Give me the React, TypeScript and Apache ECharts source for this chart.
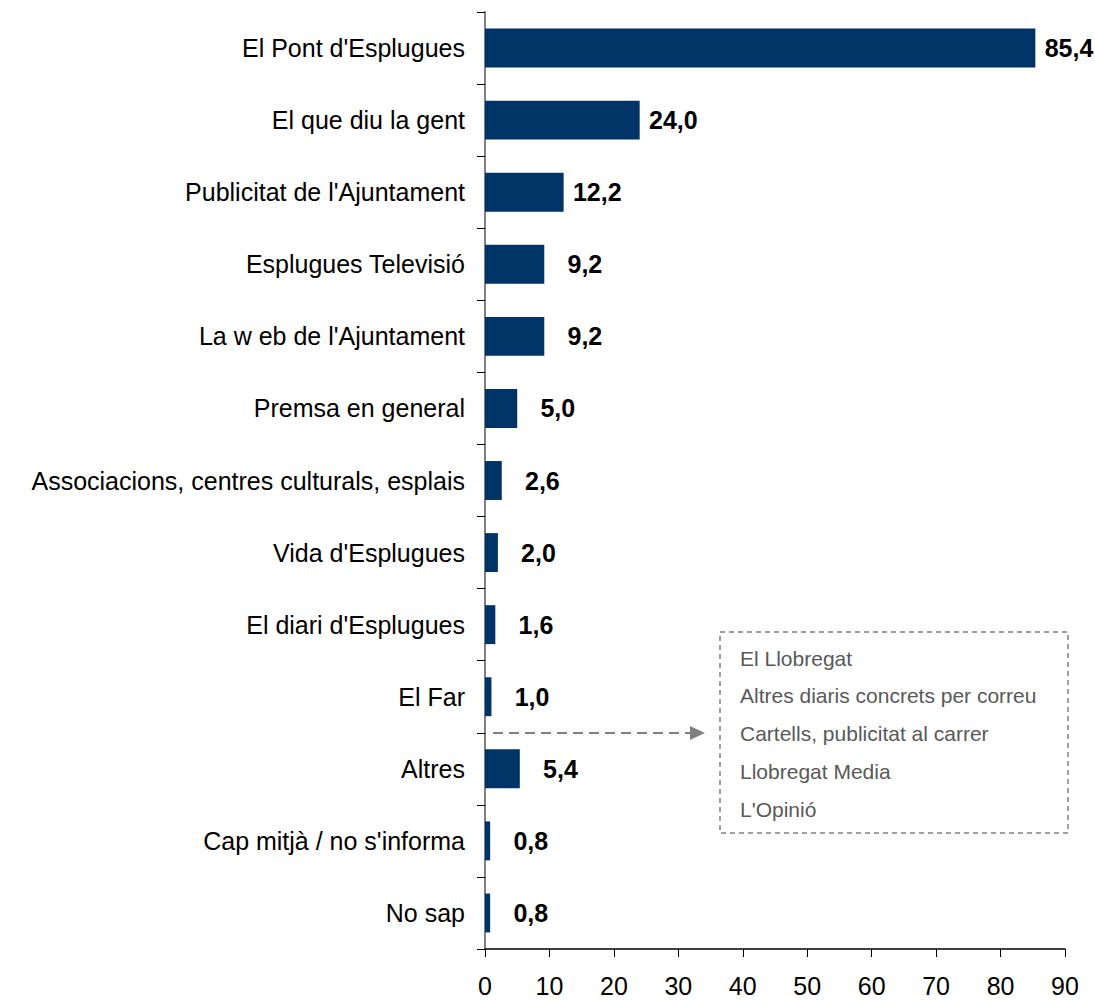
import React, { useEffect, useRef } from "react";
import * as echarts from "echarts";

const categories = [
  "El Pont d'Esplugues",
  "El que diu la gent",
  "Publicitat de l'Ajuntament",
  "Esplugues Televisió",
  "La w eb de l'Ajuntament",
  "Premsa en general",
  "Associacions, centres culturals, esplais",
  "Vida d'Esplugues",
  "El diari d'Esplugues",
  "El Far",
  "Altres",
  "Cap mitjà / no s'informa",
  "No sap",
];
const values = [85.4, 24.0, 12.2, 9.2, 9.2, 5.0, 2.6, 2.0, 1.6, 1.0, 5.4, 0.8, 0.8];
const otherItems = [
  "El Llobregat",
  "Altres diaris concrets per correu",
  "Cartells, publicitat al carrer",
  "Llobregat Media",
  "L'Opinió",
];

const FONT = "'Liberation Sans', Arial, sans-serif";

export default function App() {
  const ref = useRef<HTMLDivElement>(null);
  useEffect(() => {
    if (!ref.current) return;
    const chart = echarts.init(ref.current, null, { renderer: "svg" });
    const boxX = 720, boxY = 632, boxW = 348, boxH = 201;
    const lineYs = [658, 695, 733, 771, 809];
    chart.setOption({
      animation: false,
      textStyle: { fontFamily: FONT },
      grid: { left: 485, right: 30, top: 12, bottom: 51, containLabel: false },
      xAxis: {
        type: "value",
        min: 0,
        max: 90,
        interval: 10,
        axisLine: { show: true, lineStyle: { color: "#000", width: 1.5 } },
        axisTick: { show: true, length: 8, lineStyle: { color: "#000", width: 1 } },
        axisLabel: { color: "#000", fontSize: 25, fontFamily: FONT, margin: 24 },
        splitLine: { show: false },
      },
      yAxis: {
        type: "category",
        data: categories,
        inverse: true,
        axisLine: { show: true, lineStyle: { color: "#808080", width: 2 } },
        axisTick: { show: true, length: 8, lineStyle: { color: "#000", width: 1 } },
        axisLabel: { color: "#000", fontSize: 25, fontFamily: FONT, margin: 20 },
      },
      series: [
        {
          type: "bar",
          data: values,
          barWidth: "54%",
          itemStyle: { color: "#003366" },
          label: {
            show: true,
            position: "right",
            distance: 58,
            align: "right",
            color: "#000",
            fontWeight: "bold",
            fontSize: 25,
            fontFamily: FONT,
            formatter: (p: any) => Number(p.value).toFixed(1).replace(".", ","),
          },
        },
      ],
      graphic: [
        {
          type: "rect",
          shape: { x: boxX, y: boxY, width: boxW, height: boxH },
          style: { fill: "none", stroke: "#808080", lineWidth: 1.5, lineDash: [5, 4] },
        },
        ...otherItems.map((t, i) => ({
          type: "text",
          x: 740,
          y: lineYs[i],
          style: {
            text: t,
            fill: "#595959",
            fontSize: 21,
            fontFamily: FONT,
            textVerticalAlign: "middle",
            verticalAlign: "middle",
          },
        })),
        {
          type: "line",
          shape: { x1: 493, y1: 733, x2: 692, y2: 733 },
          style: { stroke: "#808080", lineWidth: 2, lineDash: [10, 6] },
        },
        {
          type: "polygon",
          shape: { points: [[690, 726], [705, 733], [690, 740]] },
          style: { fill: "#808080" },
        },
      ],
    });
    return () => chart.dispose();
  }, []);
  return (
    <div
      ref={ref}
      style={{ position: "absolute", left: 0, top: 0, width: 1095, height: 1000, background: "#fff" }}
    />
  );
}
